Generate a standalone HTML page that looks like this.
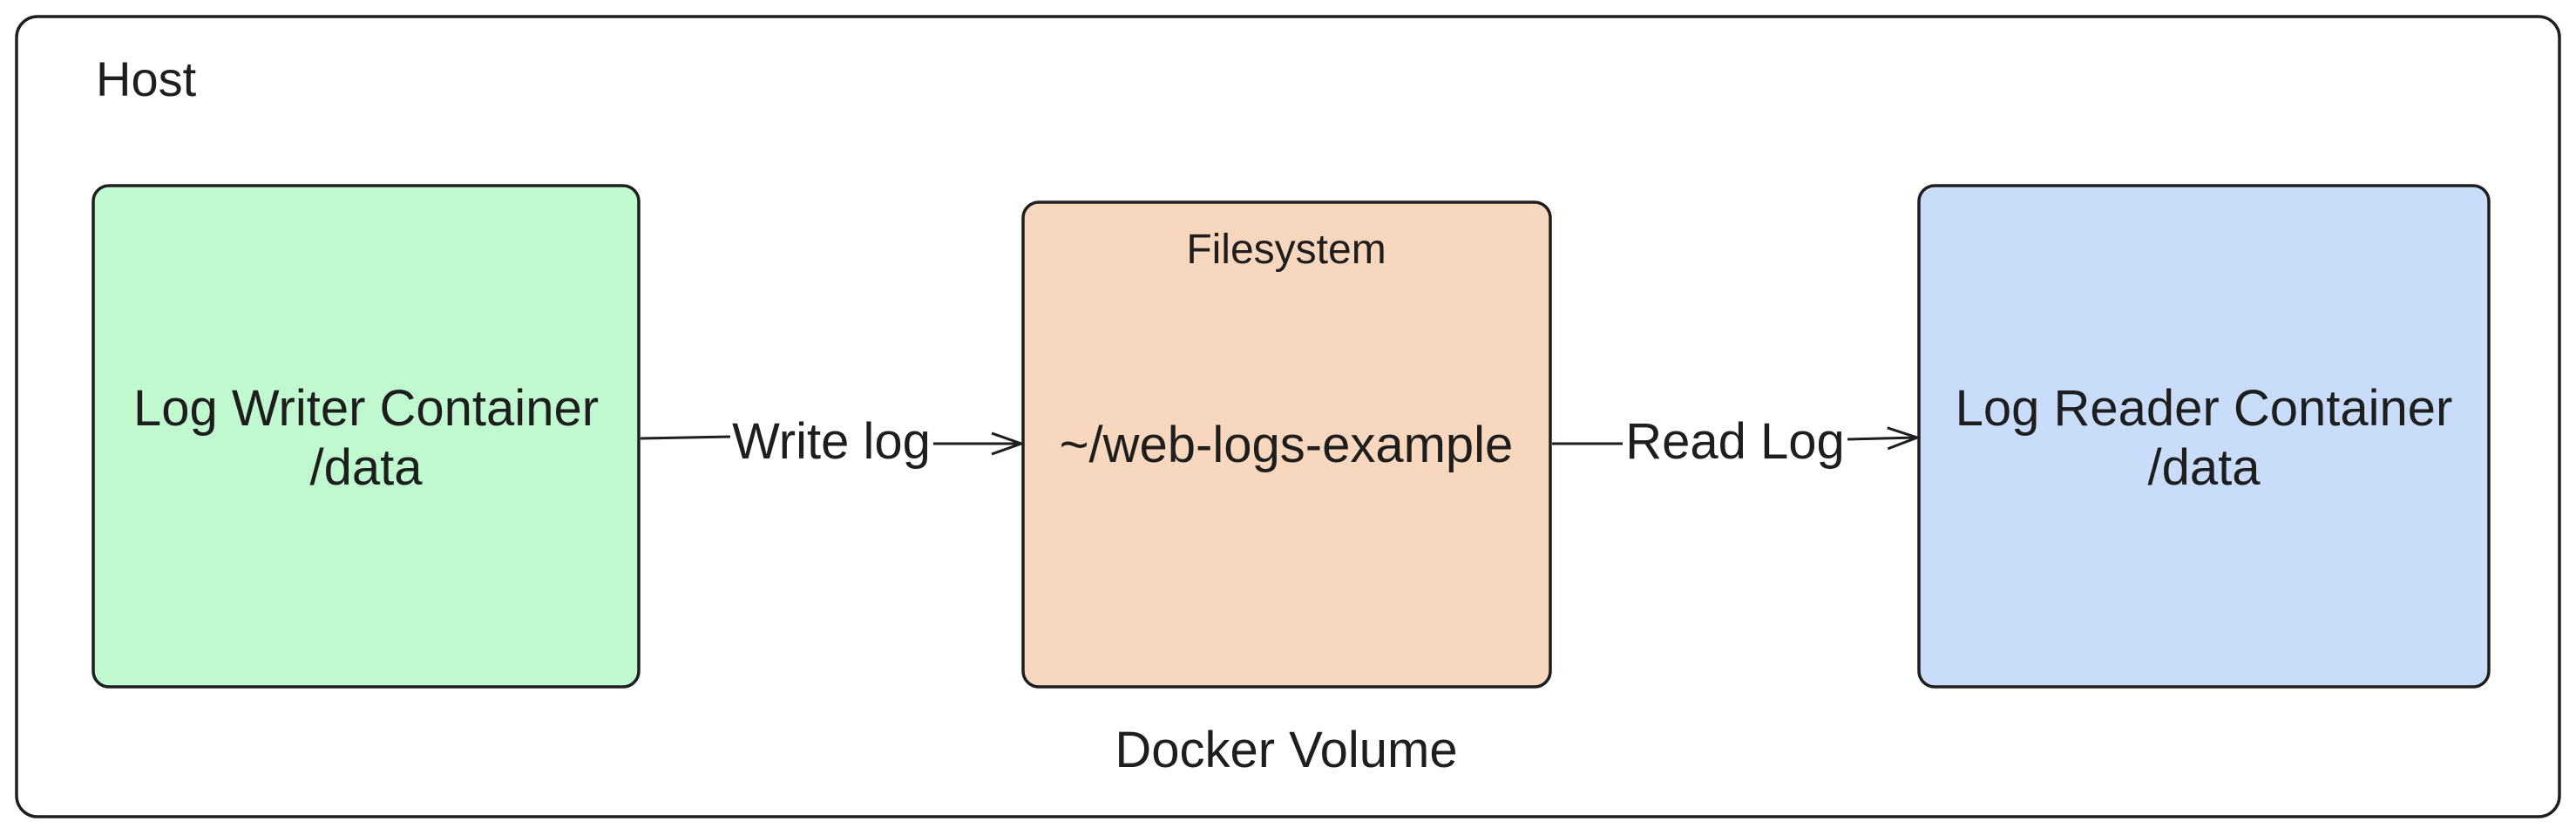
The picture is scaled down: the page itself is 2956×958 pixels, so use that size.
<!DOCTYPE html>
<html><head><meta charset="utf-8"><style>html,body{margin:0;padding:0;background:#fff}svg{display:block}</style></head>
<body>
<svg width="2956" height="958" viewBox="0 0 2956 958" xmlns="http://www.w3.org/2000/svg" font-family="Liberation Sans, sans-serif" fill="#1e1e1e">
<defs><marker id="a" markerWidth="40" markerHeight="30" refX="36" refY="15" orient="auto" markerUnits="userSpaceOnUse"><path d="M2,3 L36,15 L2,27" fill="none" stroke="#1e1e1e" stroke-width="3"/></marker></defs>
<rect x="19" y="19" width="2918" height="918" rx="24" fill="#fff" stroke="#1e1e1e" stroke-width="3.5"/>
<text x="110" y="110" font-size="56">Host</text>
<rect x="107" y="213" width="626" height="575" rx="18" fill="#c0f8d0" stroke="#1e1e1e" stroke-width="3.5"/>
<rect x="1174" y="232" width="605" height="556" rx="18" fill="#f7d7bd" stroke="#1e1e1e" stroke-width="3.5"/>
<rect x="2202" y="213" width="654" height="575" rx="18" fill="#c9dcfa" stroke="#1e1e1e" stroke-width="3.5"/>
<g font-size="58" text-anchor="middle">
<text x="420" y="488">Log Writer Container</text>
<text x="420" y="556">/data</text>
<text x="2529" y="488">Log Reader Container</text>
<text x="2529" y="556">/data</text>
<text x="1476" y="530">~/web-logs-example</text>
<text x="954" y="526">Write log</text>
<text x="1991" y="526">Read Log</text>
<text x="1476" y="880">Docker Volume</text>
</g>
<text x="1476" y="302" font-size="48" text-anchor="middle">Filesystem</text>
<g stroke="#1e1e1e" stroke-width="3" fill="none">
<line x1="735" y1="503" x2="838" y2="501"/>
<line x1="1071" y1="509" x2="1172" y2="509" marker-end="url(#a)"/>
<line x1="1781" y1="509" x2="1862" y2="509"/>
<line x1="2120" y1="504" x2="2200" y2="502" marker-end="url(#a)"/>
</g>
</svg>
</body></html>
